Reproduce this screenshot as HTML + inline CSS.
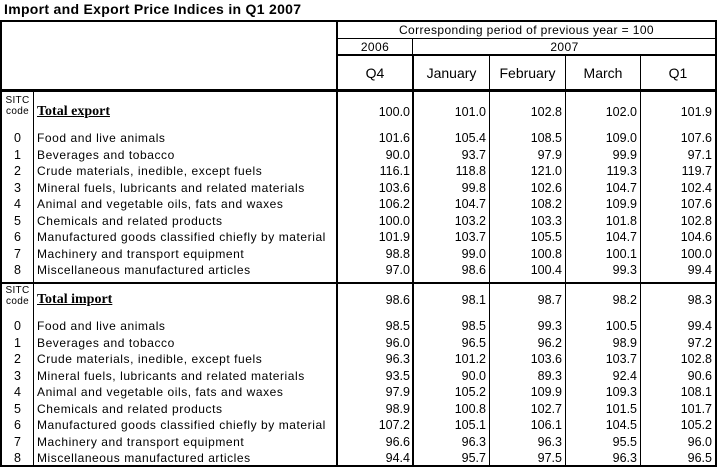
<!DOCTYPE html>
<html><head><meta charset="utf-8">
<style>
html,body{margin:0;padding:0;background:#fff;}
body{width:717px;height:467px;position:relative;overflow:hidden;font-family:"Liberation Sans",Arial,sans-serif;color:#000;}
.h{position:absolute;background:#000;}
.t{position:absolute;white-space:nowrap;}
.title{left:4px;top:0;font-size:14px;line-height:18px;font-weight:bold;letter-spacing:0.3px;}
.hd{font-size:12px;line-height:14px;text-align:center;letter-spacing:0.4px;}
.mo{font-size:14px;line-height:16px;text-align:center;top:65px;}
.r{position:absolute;left:0;width:717px;height:14px;line-height:14px;font-size:12.5px;}
.r span{position:absolute;top:0;white-space:nowrap;}
.c{left:2px;width:31px;text-align:center;}
.l{left:37px;letter-spacing:0.56px;font-size:12px;}
.a{right:307px;}
.b{right:231px;}
.d{right:155px;}
.e{right:80px;}
.f{right:5px;}
.tot{left:37px;font-family:"Liberation Serif",serif;font-weight:bold;font-size:14px;text-decoration:underline;}
.sitc{position:absolute;left:2px;width:31px;text-align:center;font-size:10px;line-height:11px;letter-spacing:0.3px;}
</style></head><body>
<div class="t title">Import and Export Price Indices in Q1 2007</div>

<div class="h" style="left:0;top:20px;width:717px;height:2px"></div>
<div class="h" style="left:337px;top:38px;width:380px;height:1px"></div>
<div class="h" style="left:337px;top:54px;width:380px;height:2px"></div>
<div class="h" style="left:0;top:89px;width:717px;height:3px"></div>
<div class="h" style="left:0;top:282px;width:717px;height:2px"></div>
<div class="h" style="left:0;top:465px;width:717px;height:2px"></div>

<div class="h" style="left:0;top:20px;width:2px;height:447px"></div>
<div class="h" style="left:715px;top:20px;width:2px;height:447px"></div>
<div class="h" style="left:336px;top:20px;width:2px;height:447px"></div>
<div class="h" style="left:33px;top:91px;width:1px;height:375px"></div>
<div class="h" style="left:412px;top:38px;width:1px;height:17px"></div>
<div class="h" style="left:412px;top:55px;width:2px;height:411px"></div>
<div class="h" style="left:489px;top:55px;width:1px;height:411px"></div>
<div class="h" style="left:565px;top:55px;width:1px;height:411px"></div>
<div class="h" style="left:640px;top:55px;width:1px;height:411px"></div>

<div class="t hd" style="left:338px;width:377px;top:23px">Corresponding period of previous year = 100</div>
<div class="t hd" style="left:338px;width:74px;top:40px">2006</div>
<div class="t hd" style="left:414px;width:301px;top:40px">2007</div>
<div class="t mo" style="left:338px;width:74px">Q4</div>
<div class="t mo" style="left:414px;width:75px">January</div>
<div class="t mo" style="left:490px;width:75px">February</div>
<div class="t mo" style="left:566px;width:74px">March</div>
<div class="t mo" style="left:641px;width:74px">Q1</div>

<div class="sitc" style="top:95px">SITC</div>
<div class="sitc" style="top:106px">code</div>
<div class="r" style="top:105px"><span class="tot">Total export</span><span class="a">100.0</span><span class="b">101.0</span><span class="d">102.8</span><span class="e">102.0</span><span class="f">101.9</span></div>
<div class="r" style="top:131px"><span class="c">0</span><span class="l">Food and live animals</span><span class="a">101.6</span><span class="b">105.4</span><span class="d">108.5</span><span class="e">109.0</span><span class="f">107.6</span></div>
<div class="r" style="top:147.5px"><span class="c">1</span><span class="l">Beverages and tobacco</span><span class="a">90.0</span><span class="b">93.7</span><span class="d">97.9</span><span class="e">99.9</span><span class="f">97.1</span></div>
<div class="r" style="top:164px"><span class="c">2</span><span class="l">Crude materials, inedible, except fuels</span><span class="a">116.1</span><span class="b">118.8</span><span class="d">121.0</span><span class="e">119.3</span><span class="f">119.7</span></div>
<div class="r" style="top:180.5px"><span class="c">3</span><span class="l">Mineral fuels, lubricants and related materials</span><span class="a">103.6</span><span class="b">99.8</span><span class="d">102.6</span><span class="e">104.7</span><span class="f">102.4</span></div>
<div class="r" style="top:197px"><span class="c">4</span><span class="l">Animal and vegetable oils, fats and waxes</span><span class="a">106.2</span><span class="b">104.7</span><span class="d">108.2</span><span class="e">109.9</span><span class="f">107.6</span></div>
<div class="r" style="top:213.5px"><span class="c">5</span><span class="l">Chemicals and related products</span><span class="a">100.0</span><span class="b">103.2</span><span class="d">103.3</span><span class="e">101.8</span><span class="f">102.8</span></div>
<div class="r" style="top:230px"><span class="c">6</span><span class="l">Manufactured goods classified chiefly by material</span><span class="a">101.9</span><span class="b">103.7</span><span class="d">105.5</span><span class="e">104.7</span><span class="f">104.6</span></div>
<div class="r" style="top:246.5px"><span class="c">7</span><span class="l">Machinery and transport equipment</span><span class="a">98.8</span><span class="b">99.0</span><span class="d">100.8</span><span class="e">100.1</span><span class="f">100.0</span></div>
<div class="r" style="top:263px"><span class="c">8</span><span class="l">Miscellaneous manufactured articles</span><span class="a">97.0</span><span class="b">98.6</span><span class="d">100.4</span><span class="e">99.3</span><span class="f">99.4</span></div>

<div class="sitc" style="top:285px">SITC</div>
<div class="sitc" style="top:296px">code</div>
<div class="r" style="top:293px"><span class="tot">Total import</span><span class="a">98.6</span><span class="b">98.1</span><span class="d">98.7</span><span class="e">98.2</span><span class="f">98.3</span></div>
<div class="r" style="top:319px"><span class="c">0</span><span class="l">Food and live animals</span><span class="a">98.5</span><span class="b">98.5</span><span class="d">99.3</span><span class="e">100.5</span><span class="f">99.4</span></div>
<div class="r" style="top:335.5px"><span class="c">1</span><span class="l">Beverages and tobacco</span><span class="a">96.0</span><span class="b">96.5</span><span class="d">96.2</span><span class="e">98.9</span><span class="f">97.2</span></div>
<div class="r" style="top:352px"><span class="c">2</span><span class="l">Crude materials, inedible, except fuels</span><span class="a">96.3</span><span class="b">101.2</span><span class="d">103.6</span><span class="e">103.7</span><span class="f">102.8</span></div>
<div class="r" style="top:368.5px"><span class="c">3</span><span class="l">Mineral fuels, lubricants and related materials</span><span class="a">93.5</span><span class="b">90.0</span><span class="d">89.3</span><span class="e">92.4</span><span class="f">90.6</span></div>
<div class="r" style="top:385px"><span class="c">4</span><span class="l">Animal and vegetable oils, fats and waxes</span><span class="a">97.9</span><span class="b">105.2</span><span class="d">109.9</span><span class="e">109.3</span><span class="f">108.1</span></div>
<div class="r" style="top:401.5px"><span class="c">5</span><span class="l">Chemicals and related products</span><span class="a">98.9</span><span class="b">100.8</span><span class="d">102.7</span><span class="e">101.5</span><span class="f">101.7</span></div>
<div class="r" style="top:418px"><span class="c">6</span><span class="l">Manufactured goods classified chiefly by material</span><span class="a">107.2</span><span class="b">105.1</span><span class="d">106.1</span><span class="e">104.5</span><span class="f">105.2</span></div>
<div class="r" style="top:434.5px"><span class="c">7</span><span class="l">Machinery and transport equipment</span><span class="a">96.6</span><span class="b">96.3</span><span class="d">96.3</span><span class="e">95.5</span><span class="f">96.0</span></div>
<div class="r" style="top:451px"><span class="c">8</span><span class="l">Miscellaneous manufactured articles</span><span class="a">94.4</span><span class="b">95.7</span><span class="d">97.5</span><span class="e">96.3</span><span class="f">96.5</span></div>
</body></html>
